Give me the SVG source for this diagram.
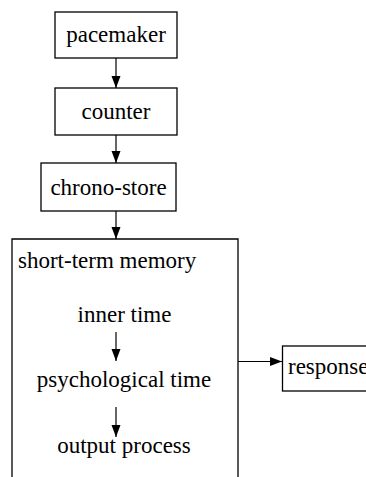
<svg xmlns="http://www.w3.org/2000/svg" width="366" height="477" viewBox="0 0 366 477">
<style>
.box{fill:#fff;stroke:#000;stroke-width:1.3}
text{font-family:'Liberation Serif',serif;font-size:23px;fill:#000}
.c{text-anchor:middle}
.conn{stroke:#000;stroke-width:1.2;fill:none}
</style>
<defs>
<marker id="ah" markerUnits="userSpaceOnUse" markerWidth="13" markerHeight="10" refX="12" refY="4.5" orient="auto">
<path d="M0,0 L12,4.5 L0,9 z" fill="#000"/>
</marker>
</defs>
<rect width="366" height="477" fill="#fff"/>
<g id="pacemaker"><rect class="box" x="55" y="12" width="122" height="46"/><text font-family="Liberation Serif" class="c" x="116" y="42">pacemaker</text></g>
<g id="counter"><rect class="box" x="55" y="88" width="122" height="47"/><text font-family="Liberation Serif" class="c" x="116" y="119">counter</text></g>
<g id="chrono-store"><rect class="box" x="41" y="163" width="135" height="48"/><text font-family="Liberation Serif" class="c" x="108.5" y="195">chrono-store</text></g>
<g id="short-term-memory"><path class="box" d="M12,490 L12,239 L238,239 L238,490"/><text font-family="Liberation Serif" x="18" y="268">short-term memory</text></g>
<g id="inner-time"><text font-family="Liberation Serif" class="c" x="124.5" y="322">inner time</text></g>
<g id="psychological-time"><text font-family="Liberation Serif" class="c" x="124" y="387">psychological time</text></g>
<g id="output-process"><text font-family="Liberation Serif" class="c" x="124" y="453">output process</text></g>
<g id="response"><rect class="box" x="282.5" y="346" width="100" height="45"/><text font-family="Liberation Serif" x="288" y="374">response</text></g>
<g id="connectors">
<line class="conn" x1="116" y1="58" x2="116" y2="88" marker-end="url(#ah)"/>
<line class="conn" x1="116" y1="135" x2="116" y2="163" marker-end="url(#ah)"/>
<line class="conn" x1="116" y1="211" x2="116" y2="239" marker-end="url(#ah)"/>
<line class="conn" x1="116" y1="332" x2="116" y2="361" marker-end="url(#ah)"/>
<line class="conn" x1="116" y1="407" x2="116" y2="437" marker-end="url(#ah)"/>
<line class="conn" x1="238" y1="361.5" x2="282" y2="361.5" marker-end="url(#ah)"/>
</g>
</svg>
